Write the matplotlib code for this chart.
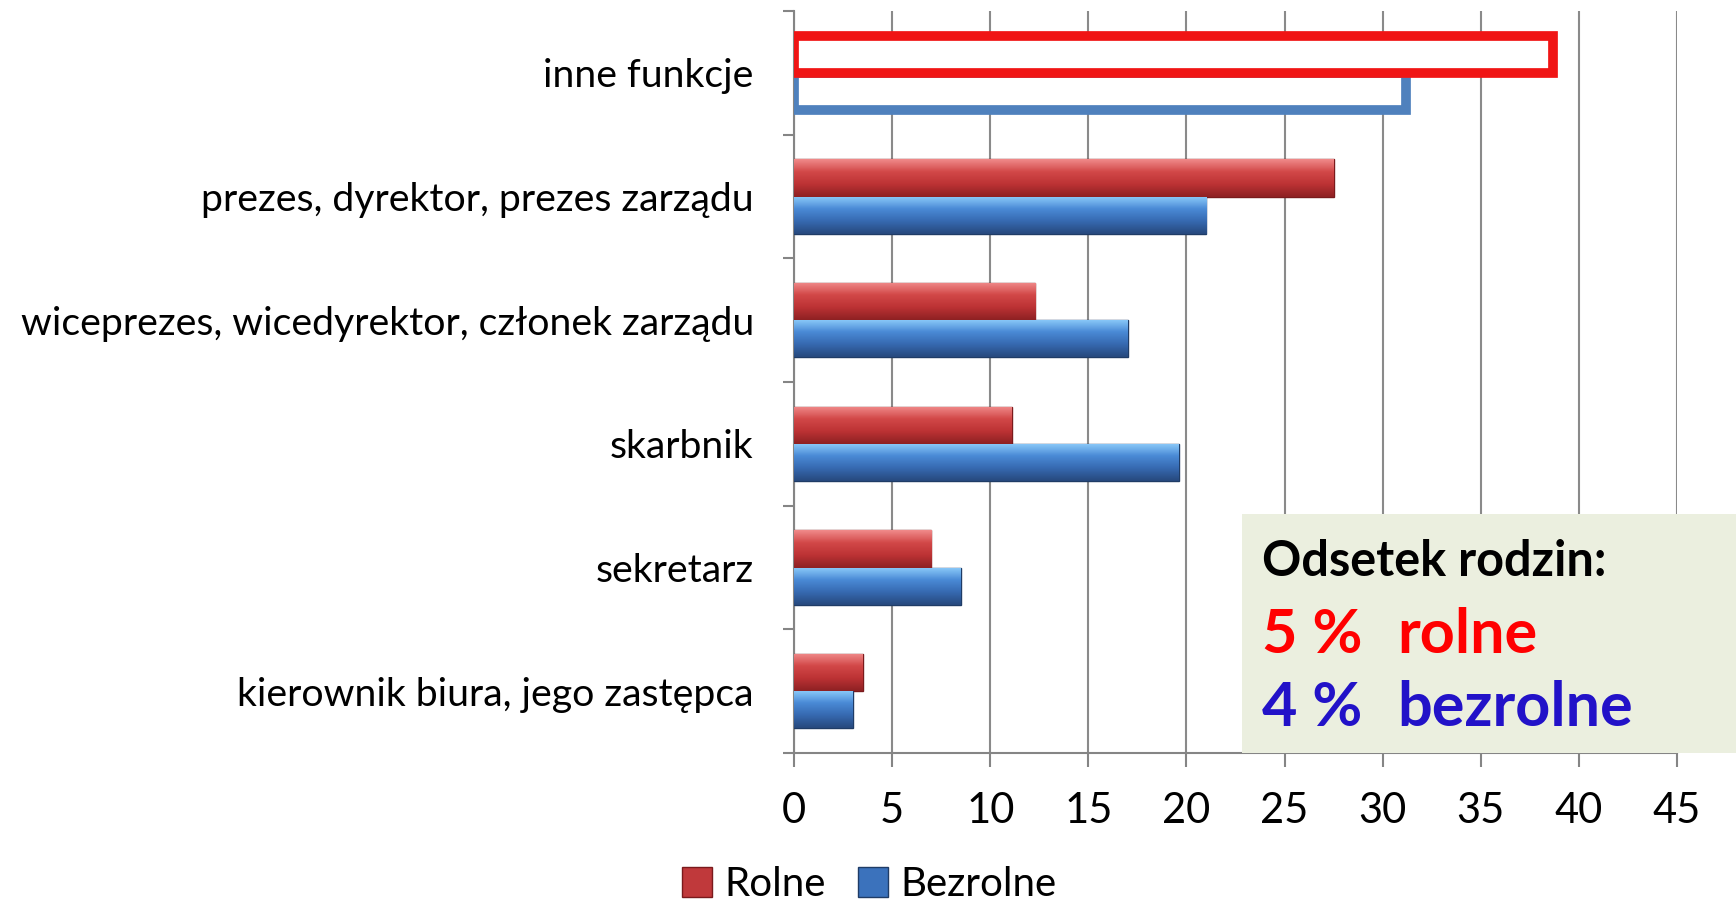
import numpy as np
import matplotlib
matplotlib.use("Agg")
import matplotlib.pyplot as plt
from matplotlib.patches import Patch, Rectangle
from matplotlib.colors import LinearSegmentedColormap

plt.rcParams['font.family'] = ['Lato', 'DejaVu Sans']

# data
categories = ['inne funkcje',
              'prezes, dyrektor, prezes zarządu',
              'wiceprezes, wicedyrektor, członek zarządu',
              'skarbnik',
              'sekretarz',
              'kierownik biura, jego zastępca']
rolne = [38.7, 27.5, 12.3, 11.1, 7.0, 3.5]
bezrolne = [31.2, 21.0, 17.0, 19.6, 8.5, 3.0]
xticks = [0, 5, 10, 15, 20, 25, 30, 35, 40, 45]
series_names = ['Rolne', 'Bezrolne']

RED = '#C0393B'
BLUE = '#3B72BC'
red_cmap = LinearSegmentedColormap.from_list('r', ['#F08A8A', '#D24848', '#BC3234', '#8E2123'])
blue_cmap = LinearSegmentedColormap.from_list('b', ['#8CCBFA', '#4A8AD6', '#3669B0', '#27497E'])

fig = plt.figure(figsize=(17.36, 9.0), dpi=100)
ax = fig.add_axes([0.4574, 0.1633, 0.5086, 0.8244])

y = np.arange(len(categories))
h = 0.30
bars_r = ax.barh(y - h / 2, rolne, height=h, color=RED, edgecolor='#7A1A1C', linewidth=1, zorder=3)
bars_b = ax.barh(y + h / 2, bezrolne, height=h, color=BLUE, edgecolor='#1F3C66', linewidth=1, zorder=3)

# bevel-like gradient fill inside bars (skip the outlined first category)
grad = np.linspace(0, 1, 64).reshape(-1, 1)
for bars, cmap in [(bars_r, red_cmap), (bars_b, blue_cmap)]:
    for i, b in enumerate(bars):
        if i == 0:
            continue
        x0, y0 = b.get_x(), b.get_y()
        im = ax.imshow(grad, cmap=cmap, aspect='auto', zorder=3.5,
                       extent=[x0, x0 + b.get_width(), y0 + b.get_height(), y0])
        im.set_clip_path(b)

# first category: white bars with thick outlines
bars_b[0].set_facecolor('white')
bars_b[0].set_edgecolor('#4F81BD')
bars_b[0].set_linewidth(7)
bars_r[0].set_facecolor('white')
bars_r[0].set_edgecolor('#F01515')
bars_r[0].set_linewidth(7)
bars_r[0].set_zorder(4)

ax.set_xlim(0, 45)
ax.set_ylim(len(categories) - 0.5, -0.5)
ax.set_xticks(xticks)
ax.set_xticklabels([str(t) for t in xticks], fontsize=30)
ax.set_yticks(y)
ax.set_yticklabels(categories, fontsize=28.3)
ax.set_yticks(np.arange(-0.5, len(categories)), minor=True)
ax.tick_params(axis='y', which='major', length=0, pad=29)
ax.tick_params(axis='y', which='minor', length=8, width=1.5, color='#858585', direction='out')
ax.tick_params(axis='x', length=10, width=1.5, color='#858585', pad=18)

ax.grid(axis='x', color='#8A8A8A', linewidth=1.5, zorder=0)
ax.set_axisbelow(True)
for s in ['top', 'right']:
    ax.spines[s].set_visible(False)
for s in ['left', 'bottom']:
    ax.spines[s].set_color('#858585')
    ax.spines[s].set_linewidth(1.5)

# legend
handles = [Patch(facecolor=RED, edgecolor='#7A1A1C', label=series_names[0]),
           Patch(facecolor=BLUE, edgecolor='#1F3C66', label=series_names[1])]
fig.legend(handles=handles, loc='center', bbox_to_anchor=(0.5006, 0.017), ncol=2,
           frameon=False, fontsize=29, handlelength=0.75, handleheight=0.75,
           handletextpad=0.3, columnspacing=0.8)

# info box
fig.add_artist(Rectangle((0.7155, 0.1633), 0.2845, 0.2656, transform=fig.transFigure,
                         facecolor='#EBEFDF', edgecolor='none', zorder=5))
fig.text(0.727, 1 - 576 / 900, 'Odsetek rodzin:', fontsize=35, fontweight='bold',
         color='black', va='baseline', zorder=6)
fig.text(0.727, 1 - 653 / 900, '5 %', fontsize=44, fontweight='bold',
         color='#FF0000', va='baseline', zorder=6)
fig.text(0.805, 1 - 653 / 900, 'rolne', fontsize=44, fontweight='bold',
         color='#FF0000', va='baseline', zorder=6)
fig.text(0.727, 1 - 726 / 900, '4 %', fontsize=44, fontweight='bold',
         color='#2212C8', va='baseline', zorder=6)
fig.text(0.805, 1 - 726 / 900, 'bezrolne', fontsize=44, fontweight='bold',
         color='#2212C8', va='baseline', zorder=6)

fig.savefig('out.png', dpi=100)
